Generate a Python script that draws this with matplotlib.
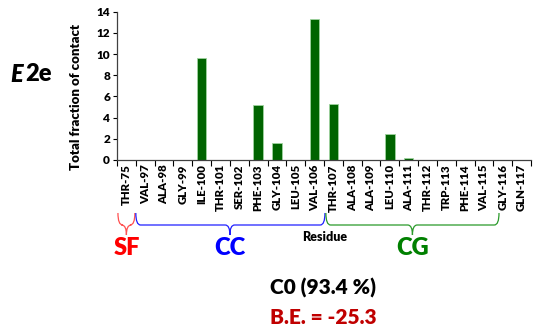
import matplotlib
matplotlib.use("Agg")
import matplotlib.pyplot as plt
from matplotlib.path import Path
from matplotlib.patches import PathPatch
from matplotlib.transforms import blended_transform_factory

plt.rcParams['font.family'] = ['Lato', 'DejaVu Sans']
BOLD = 800

residues = ["THR-75", "VAL-97", "ALA-98", "GLY-99", "ILE-100", "THR-101",
            "SER-102", "PHE-103", "GLY-104", "LEU-105", "VAL-106", "THR-107",
            "ALA-108", "ALA-109", "LEU-110", "ALA-111", "THR-112", "TRP-113",
            "PHE-114", "VAL-115", "GLY-116", "GLN-117"]
contact = [0, 0, 0, 0, 9.6, 0, 0, 5.2, 1.65, 0, 13.3, 5.3,
           0, 0, 2.5, 0.15, 0, 0, 0, 0, 0, 0]

# domain brackets: (label, start, end, tip, line colour, text colour)
domains = [("SF", -0.45, 0.45, 0.0, "#ff5050", "#ff0000"),
           ("CC", 0.5, 10.55, 5.5, "#2020ff", "#0000ff"),
           ("CG", 10.6, 19.8, 15.2, "#2a9a2a", "#008000")]

W, H = 533, 330
fig = plt.figure(figsize=(W / 100, H / 100), dpi=100)
ax = fig.add_axes([117 / W, 1 - 160 / H, (531 - 117) / W, (160 - 11.7) / H])

x = list(range(len(residues)))
ax.bar(x, contact, width=0.5, color="#006400", edgecolor="#9fd39f", linewidth=0.6)

ax.set_xlim(-0.5, len(residues) - 0.5)
ax.set_ylim(0, 14)
ax.set_yticks(range(0, 15, 2))
ax.tick_params(axis='y', labelsize=8.5, length=3, width=0.8, pad=2)
for lbl in ax.get_yticklabels():
    lbl.set_fontweight(BOLD)
ax.set_xticks([i - 0.5 for i in range(len(residues) + 1)])
ax.set_xticklabels([])
ax.set_xticks(x, minor=True)
ax.set_xticklabels(residues, minor=True, rotation=90, fontsize=8.2,
                   fontweight=BOLD)
ax.tick_params(axis='x', which='major', length=4, width=0.8, direction='out')
ax.tick_params(axis='x', which='minor', length=0, pad=3)
for s in ("top", "right"):
    ax.spines[s].set_visible(False)
for s in ("left", "bottom"):
    ax.spines[s].set_color("#404040")
    ax.spines[s].set_linewidth(0.9)

fig.text(76 / W, 1 - 97 / H, "Total fraction of contact", rotation=90,
         ha='center', va='center', fontsize=9.5, fontweight=BOLD)
fig.text(325 / W, 1 - 237 / H, "Residue", ha='center', va='center',
         fontsize=9, fontweight=BOLD)

fig.text(10 / W, 1 - 74 / H, "E", ha='left', va='center', fontsize=17,
         fontweight=BOLD, style='italic')
fig.text(25 / W, 1 - 74 / H, "2e", ha='left', va='center', fontsize=17,
         fontweight=BOLD)

# brackets under the residue axis
tr = blended_transform_factory(ax.transData, fig.transFigure)

def fy(py):
    return 1 - py / H

for name, x0, x1, xt, col, tcol in domains:
    r = 0.25
    top = fy(213)
    base, tip = fy(225), fy(235)
    verts = [(x0, top), (x0, base), (x0 + r, base),
             (xt - r, base), (xt, base), (xt, tip),
             (xt, base), (xt + r, base),
             (x1 - r, base), (x1, base), (x1, top)]
    codes = [Path.MOVETO, Path.CURVE3, Path.CURVE3,
             Path.LINETO, Path.CURVE3, Path.CURVE3,
             Path.CURVE3, Path.CURVE3,
             Path.LINETO, Path.CURVE3, Path.CURVE3]
    patch = PathPatch(Path(verts, codes), transform=tr, facecolor='none',
                      edgecolor=col, linewidth=0.9, clip_on=False)
    fig.add_artist(patch)
    ax.text(xt, fy(248), name, transform=tr, ha='center', va='center',
            fontsize=17, fontweight=BOLD, color=tcol, clip_on=False)

fig.text(323 / W, 1 - 288 / H, "C0 (93.4 %)", ha='center', va='center',
         fontsize=15, fontweight=BOLD, color='black')
fig.text(323 / W, 1 - 318 / H, "B.E. = -25.3", ha='center', va='center',
         fontsize=15, fontweight=BOLD, color='#c00000')

fig.savefig("out.png", dpi=100)
